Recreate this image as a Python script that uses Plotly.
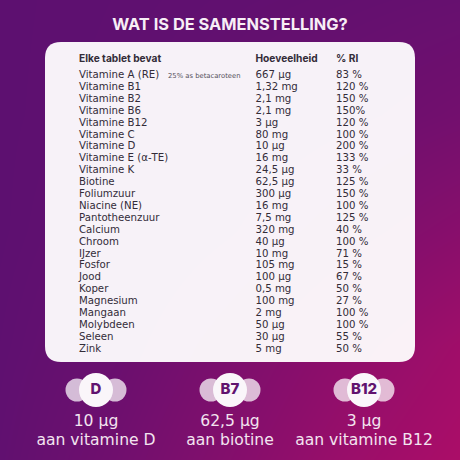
import plotly.graph_objects as go

title = "WAT IS DE SAMENSTELLING?"
headers = ["Elke tablet bevat", "Hoeveelheid", "% RI"]
nutrients = ["Vitamine A (RE)", "Vitamine B1", "Vitamine B2", "Vitamine B6", "Vitamine B12", "Vitamine C",
             "Vitamine D", "Vitamine E (α-TE)", "Vitamine K", "Biotine", "Foliumzuur", "Niacine (NE)",
             "Pantotheenzuur", "Calcium", "Chroom", "IJzer", "Fosfor", "Jood", "Koper", "Magnesium",
             "Mangaan", "Molybdeen", "Seleen", "Zink"]
amounts = ["667 µg", "1,32 mg", "2,1 mg", "2,1 mg", "3 µg", "80 mg", "10 µg", "16 mg", "24,5 µg", "62,5 µg",
           "300 µg", "16 mg", "7,5 mg", "320 mg", "40 µg", "10 mg", "105 mg", "100 µg", "0,5 mg", "100 mg",
           "2 mg", "50 µg", "30 µg", "5 mg"]
ri = ["83 %", "120 %", "150 %", "150%", "120 %", "100 %", "200 %", "133 %", "33 %", "125 %", "150 %", "100 %",
      "125 %", "40 %", "100 %", "71 %", "15 %", "67 %", "50 %", "27 %", "100 %", "100 %", "55 %", "50 %"]
note = "25% as betacaroteen"
badges = ["D", "B7", "B12"]
badge_amounts = ["10 µg", "62,5 µg", "3 µg"]
badge_labels = ["aan vitamine D", "aan biotine", "aan vitamine B12"]

W = 460
FONT = "DejaVu Sans"
BOLD_FONT = "Inter"
DARK = "#332c38"
PURPLE = "#5f1070"
ROW0, ROWSTEP = 75.5, 11.9
BADGE_X = [96, 230, 364]

# background gradient levels
bg_levels = [[0.00, 0.02, 0.05, 0.08, 0.12],
             [0.00, 0.03, 0.10, 0.18, 0.28],
             [0.00, 0.08, 0.20, 0.38, 0.55],
             [0.02, 0.15, 0.38, 0.62, 0.85],
             [0.05, 0.25, 0.50, 0.78, 1.00]]
bg_pos = [0, 115, 230, 345, 460]

fig = go.Figure()
fig.add_trace(go.Heatmap(x=bg_pos, y=bg_pos, z=bg_levels, zsmooth="best", showscale=False, hoverinfo="skip",
                         zmin=0, zmax=1, colorscale=[[0, "#5d1070"], [1, "#ab0d68"]], xaxis="x", yaxis="y"))


def text_col(xs, ys, texts, size, pos="middle right", color=DARK, weight=400, family=FONT):
    fig.add_trace(go.Scatter(x=xs, y=ys, text=texts, mode="text", textposition=pos, hoverinfo="skip",
                             textfont=dict(family=family, size=size, color=color, weight=weight),
                             xaxis="x2", yaxis="y2", showlegend=False))


rows = [ROW0 + i * ROWSTEP for i in range(len(nutrients))]
text_col([79, 255.5, 336], [59.5] * 3, headers, 10.2, weight=700, family=BOLD_FONT)
text_col([79] * len(rows), rows, nutrients, 10.2)
text_col([255.5] * len(rows), rows, amounts, 10.2)
text_col([336] * len(rows), rows, ri, 10.2)
text_col([168], [ROW0 + 0.5], [note], 6.8, color="#55505a")

text_col(BADGE_X, [390.5] * 3, badges, 15, pos="middle center", color="#61136f", weight=800, family=BOLD_FONT)
text_col(BADGE_X, [422] * 3, badge_amounts, 15.6, pos="middle center", color="#f3e4f0")
text_col(BADGE_X, [441] * 3, badge_labels, 15.6, pos="middle center", color="#f3e4f0")

l, t, r, b, c = 45, 42, 415, 362, 16
panel = (f"M{l + c},{t} L{r - c},{t} Q{r},{t} {r},{t + c} L{r},{b - c} Q{r},{b} {r - c},{b} "
         f"L{l + c},{b} Q{l},{b} {l},{b - c} L{l},{t + c} Q{l},{t} {l + c},{t} Z")
shapes = [dict(type="path", path=panel, fillcolor="rgba(255,255,255,0.95)", line_width=0,
               xref="x2", yref="y2", layer="below")]
for cx in BADGE_X:
    for off in (-19, 19):
        shapes.append(dict(type="circle", x0=cx + off - 11.5, x1=cx + off + 11.5, y0=378.5, y1=401.5,
                           fillcolor="rgba(255,255,255,0.72)", line_width=0, xref="x2", yref="y2", layer="below"))
    shapes.append(dict(type="circle", x0=cx - 17, x1=cx + 17, y0=373, y1=407,
                       fillcolor="#faf6fa", line_width=0, xref="x2", yref="y2", layer="below"))

ax = dict(range=[0, W], visible=False, fixedrange=True, domain=[0, 1])
ay = dict(range=[W, 0], visible=False, fixedrange=True, domain=[0, 1])
fig.update_layout(
    width=W, height=W, margin=dict(l=0, r=0, t=0, b=0), showlegend=False,
    paper_bgcolor=PURPLE, plot_bgcolor="rgba(0,0,0,0)",
    xaxis=ax, yaxis=ay,
    xaxis2=dict(ax, anchor="y2"), yaxis2=dict(ay, anchor="x2"),
    shapes=shapes,
    title=dict(text=title, x=0.5, xanchor="center", y=1 - 24.5 / W, yanchor="middle",
               font=dict(family=BOLD_FONT, size=16.4, color="#f7eef6", weight=700)),
)
fig.write_html("out.html", config=dict(displayModeBar=False),
               post_script="document.body.style.margin='0';document.documentElement.style.overflow='hidden';")
